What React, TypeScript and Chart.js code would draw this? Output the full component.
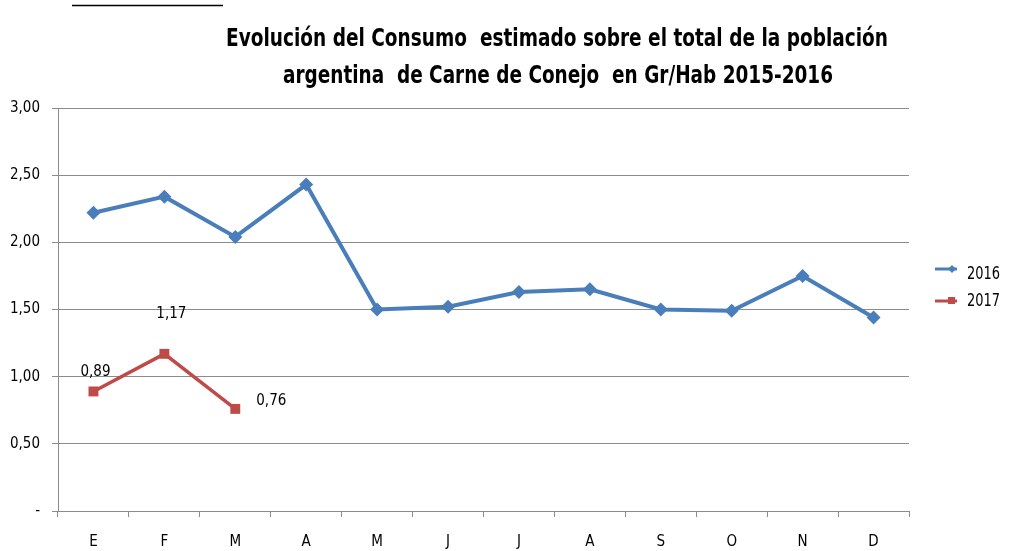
import React, { useEffect, useRef } from "react";
import { Chart, registerables } from "chart.js";

Chart.register(...registerables);

const categories = ["E", "F", "M", "A", "M", "J", "J", "A", "S", "O", "N", "D"];
const values2016 = [2.22, 2.34, 2.04, 2.43, 1.5, 1.52, 1.63, 1.65, 1.5, 1.49, 1.75, 1.44];
const values2017 = [0.89, 1.17, 0.76];
const seriesNames = ["2016", "2017"];
const titleLines = [
  "Evolución del Consumo  estimado sobre el total de la población",
  "argentina  de Carne de Conejo  en Gr/Hab 2015-2016",
];

const FONT = "'Liberation Sans Narrow', 'DejaVu Sans Condensed', 'Arial Narrow', sans-serif";
const BLUE = "#4A7EBB";
const RED = "#BE4B48";
const GRID = "#8C8C8C";

const fmt = (v: number) => (v === 0 ? "-" : v.toFixed(2).replace(".", ","));

const labelOffsets2017 = [
  { dx: 2, dy: -19 },
  { dx: 7, dy: -40 },
  { dx: 36, dy: -8 },
];

function fillFitted(ctx: any, text: string, cx: number, cy: number, width: number) {
  const w = ctx.measureText(text).width;
  const k = Math.min(1, width / w);
  ctx.save();
  ctx.translate(cx, cy);
  ctx.scale(k, 1);
  ctx.textAlign = "center";
  ctx.textBaseline = "middle";
  ctx.fillText(text, 0, 0);
  ctx.restore();
}

const decorPlugin = {
  id: "decor",
  afterDraw(chart: any) {
    const ctx = chart.ctx;
    ctx.save();
    // top-left stray line
    ctx.strokeStyle = "#000";
    ctx.lineWidth = 1.5;
    ctx.beginPath();
    ctx.moveTo(72, 5.5);
    ctx.lineTo(223, 5.5);
    ctx.stroke();

    // title
    ctx.fillStyle = "#000";
    ctx.font = `bold 24px ${FONT}`;
    fillFitted(ctx, titleLines[0], 557, 40, 662);
    fillFitted(ctx, titleLines[1], 558, 77, 550);

    // data labels for 2017
    const meta = chart.getDatasetMeta(1);
    ctx.font = `15px ${FONT}`;
    ctx.textAlign = "center";
    ctx.textBaseline = "middle";
    meta.data.forEach((pt: any, i: number) => {
      const o = labelOffsets2017[i];
      ctx.fillText(fmt(values2017[i]), pt.x + o.dx, pt.y + o.dy);
    });

    // legend
    const items = [
      { name: seriesNames[0], color: BLUE, ly: 269, ty: 275, shape: "diamond" },
      { name: seriesNames[1], color: RED, ly: 301, ty: 302, shape: "square" },
    ];
    items.forEach((it) => {
      ctx.strokeStyle = it.color;
      ctx.fillStyle = it.color;
      ctx.lineWidth = 3;
      ctx.beginPath();
      ctx.moveTo(935, it.ly);
      ctx.lineTo(957, it.ly);
      ctx.stroke();
      ctx.beginPath();
      if (it.shape === "diamond") {
        ctx.moveTo(952, it.ly - 4);
        ctx.lineTo(956, it.ly);
        ctx.lineTo(952, it.ly + 4);
        ctx.lineTo(948, it.ly);
        ctx.closePath();
      } else {
        ctx.rect(948, it.ly - 4, 7, 7);
      }
      ctx.fill();
      ctx.fillStyle = "#000";
      ctx.font = `17px ${FONT}`;
      ctx.save();
      ctx.translate(967, it.ty);
      ctx.scale(0.85, 1);
      ctx.textAlign = "left";
      ctx.textBaseline = "middle";
      ctx.fillText(it.name, 0, 0);
      ctx.restore();
    });
    ctx.restore();
  },
};

export default function App() {
  const ref = useRef<HTMLCanvasElement | null>(null);
  useEffect(() => {
    if (!ref.current) return;
    const chart = new Chart(ref.current, {
      type: "line",
      data: {
        labels: categories,
        datasets: [
          {
            label: seriesNames[0],
            data: values2016,
            borderColor: BLUE,
            backgroundColor: BLUE,
            borderWidth: 4,
            pointStyle: "rectRot",
            pointRadius: 7,
            pointBorderWidth: 0,
            tension: 0,
          },
          {
            label: seriesNames[1],
            data: values2017,
            borderColor: RED,
            backgroundColor: RED,
            borderWidth: 3.5,
            pointStyle: "rect",
            pointRadius: 7,
            pointBorderWidth: 0,
            tension: 0,
          },
        ],
      },
      options: {
        animation: false,
        responsive: false,
        maintainAspectRatio: false,
        layout: { padding: { left: 8, right: 106, top: 108, bottom: 0 } },
        plugins: {
          legend: { display: false },
          title: { display: false },
          tooltip: { enabled: false },
        },
        scales: {
          x: {
            offset: true,
            grid: {
              display: true,
              offset: true,
              drawOnChartArea: false,
              drawTicks: true,
              tickLength: 6,
              color: GRID,
            },
            border: { color: GRID, width: 1 },
            ticks: {
              color: "#000",
              font: { family: FONT, size: 15 },
              padding: 16,
              maxRotation: 0,
              autoSkip: false,
            },
            afterFit: (s: any) => {
              s.height = 40;
            },
          },
          y: {
            min: 0,
            max: 3,
            grid: {
              color: GRID,
              tickLength: 6,
              drawTicks: true,
            },
            border: { color: GRID, width: 1 },
            ticks: {
              stepSize: 0.5,
              color: "#000",
              font: { family: FONT, size: 15 },
              padding: 12,
              callback: (v: any) => fmt(Number(v)),
            },
            afterFit: (s: any) => {
              s.width = 50;
            },
          },
        },
      },
      plugins: [decorPlugin],
    });
    return () => chart.destroy();
  }, []);
  return (
    <div style={{ position: "absolute", left: 0, top: 0, width: 1015, height: 551, background: "#fff" }}>
      <canvas ref={ref} width={1015} height={551} style={{ width: 1015, height: 551 }} />
    </div>
  );
}
